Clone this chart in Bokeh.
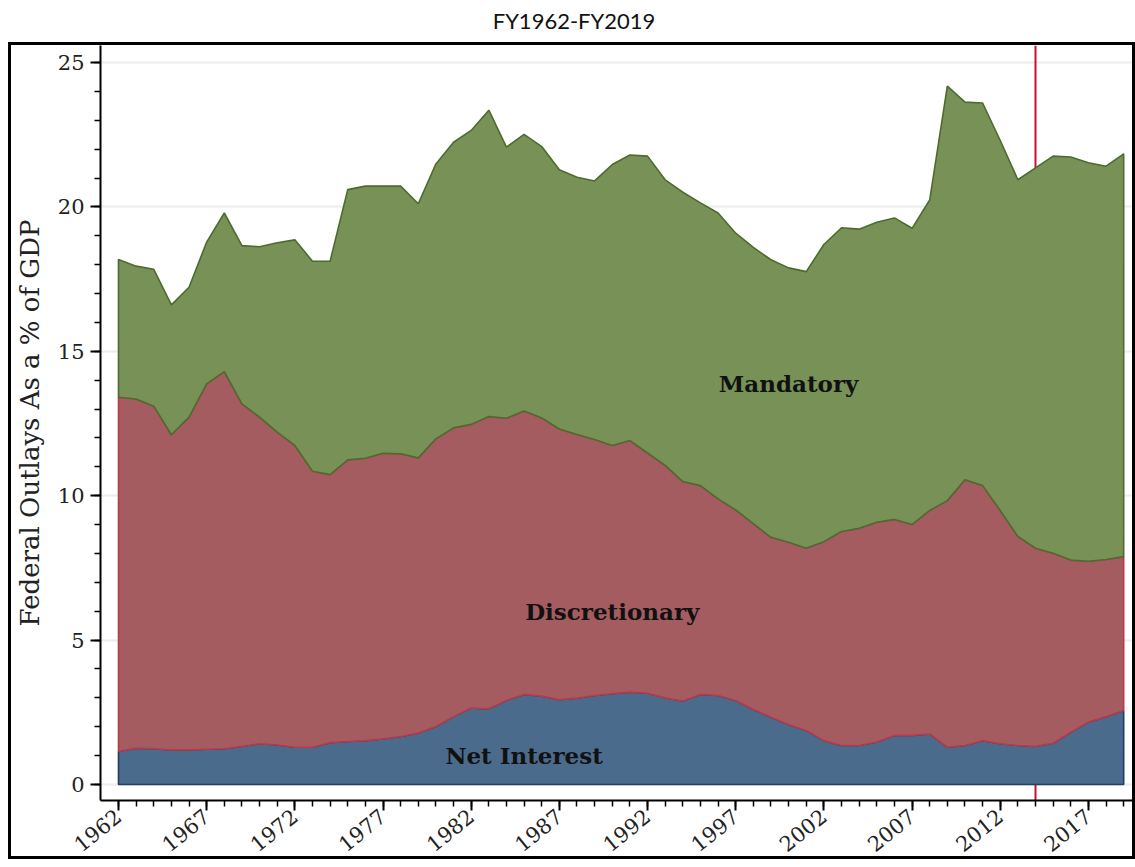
import numpy as np
from bokeh.plotting import figure
from bokeh.layouts import column
from bokeh.models import FixedTicker, Span
from bokeh.embed import file_html
from bokeh.resources import INLINE
from bokeh.core.properties import value

# ---------------- data (share of GDP, %) ----------------
years = list(range(1962, 2020))
net_interest = [1.14, 1.26, 1.24, 1.20, 1.20, 1.22, 1.24, 1.32, 1.41, 1.37,
                1.29, 1.29, 1.45, 1.49, 1.52, 1.58, 1.66, 1.78, 2.01, 2.35,
                2.65, 2.62, 2.91, 3.12, 3.06, 2.94, 2.99, 3.08, 3.14, 3.20,
                3.16, 3.00, 2.89, 3.12, 3.08, 2.91, 2.60, 2.33, 2.07, 1.87,
                1.52, 1.35, 1.35, 1.47, 1.70, 1.70, 1.75, 1.29, 1.35, 1.52,
                1.41, 1.35, 1.32, 1.43, 1.81, 2.16, 2.35, 2.56]
discretionary = [12.27, 12.09, 11.86, 10.91, 11.52, 12.65, 13.06, 11.86, 11.31, 10.83,
                 10.45, 9.56, 9.28, 9.75, 9.78, 9.89, 9.79, 9.53, 9.96, 10.00,
                 9.82, 10.12, 9.77, 9.81, 9.63, 9.37, 9.13, 8.87, 8.60, 8.71,
                 8.32, 8.05, 7.60, 7.23, 6.81, 6.60, 6.43, 6.23, 6.32, 6.31,
                 6.89, 7.41, 7.52, 7.61, 7.48, 7.30, 7.74, 8.54, 9.20, 8.83,
                 8.08, 7.24, 6.86, 6.58, 5.96, 5.57, 5.44, 5.33]
mandatory = [4.77, 4.60, 4.74, 4.50, 4.50, 4.91, 5.49, 5.48, 5.90, 6.56,
             7.12, 7.27, 7.39, 9.36, 9.42, 9.25, 9.27, 8.80, 9.52, 9.89,
             10.18, 10.61, 9.39, 9.58, 9.40, 8.98, 8.91, 8.95, 9.73, 9.89,
             10.28, 9.89, 10.02, 9.79, 9.90, 9.58, 9.57, 9.61, 9.50, 9.58,
             10.29, 10.52, 10.36, 10.39, 10.44, 10.26, 10.75, 14.35, 13.08, 13.25,
             12.81, 12.35, 13.17, 13.75, 13.96, 13.80, 13.62, 13.95]
series_names = ["Net Interest", "Discretionary", "Mandatory"]
x_tick_years = list(range(1962, 2018, 5))
y_ticks = [0, 5, 10, 15, 20, 25]
title_text = "FY1962-FY2019"
y_label = "Federal Outlays As a % of GDP"
marker_year = 2014

# ---------------- stacking ----------------
ni = np.array(net_interest)
mid = ni + np.array(discretionary)
tot = mid + np.array(mandatory)
zero = np.zeros(len(years))

# ---------------- main chart ----------------
p = figure(width=1127, height=817, x_range=(1960.98, 2019.5), y_range=(-0.554, 25.59),
           toolbar_location=None, output_backend="svg",
           min_border_left=87, min_border_right=6, min_border_top=0, min_border_bottom=62)
p.styles = {"border": "3px solid black"}
p.outline_line_color = None
p.background_fill_color = "white"
p.border_fill_color = "white"

# ---------------- title strip (frame aligned with main chart) ----------------
t = figure(width=1127, height=34, x_range=p.x_range, y_range=(0, 1),
           toolbar_location=None, output_backend="svg",
           min_border_left=87, min_border_right=6, min_border_top=0, min_border_bottom=0)
t.axis.visible = False
t.grid.visible = False
t.outline_line_color = None
t.text(x=[1988.0], y=[0.66], text=[title_text], text_font=value("Lato"),
       text_font_size="22px", text_align="center", text_baseline="middle",
       text_color="#111111")

span = Span(location=marker_year, dimension="height", line_color="#c8102e",
            line_width=2, level="underlay")
p.add_layout(span)


def band(lo, hi):
    xs = years + years[::-1]
    ys = list(hi) + list(lo[::-1])
    return xs, ys


fills = ["#4b6b8c", "#a55c61", "#789157"]
lines = ["#1e3f66", "#b83a4b", "#4e6b2e"]
bounds = [(zero, ni), (ni, mid), (mid, tot)]
for (lo, hi), fc, lc, nm in zip(bounds, fills, lines, series_names):
    xs, ys = band(lo, hi)
    p.patch(xs, ys, fill_color=fc, line_color=lc, line_width=1.6)

# area labels
p.text(x=[2000], y=[13.9], text=["Mandatory"], text_font=value("DejaVu Serif"),
       text_font_size="23px", text_font_style="bold", text_align="center",
       text_baseline="middle", text_color="#111111")
p.text(x=[1990], y=[5.98], text=["Discretionary"], text_font=value("DejaVu Serif"),
       text_font_size="23px", text_font_style="bold", text_align="center",
       text_baseline="middle", text_color="#111111")
p.text(x=[1985], y=[1.0], text=["Net Interest"], text_font=value("DejaVu Serif"),
       text_font_size="23px", text_font_style="bold", text_align="center",
       text_baseline="middle", text_color="#111111")

# axes
p.xaxis.ticker = FixedTicker(ticks=x_tick_years, minor_ticks=years)
p.yaxis.ticker = FixedTicker(ticks=y_ticks, minor_ticks=list(range(0, 26)))
p.xaxis.major_label_orientation = 0.68
for ax in (p.xaxis[0], p.yaxis[0]):
    ax.axis_line_color = "black"
    ax.axis_line_width = 2
    ax.major_tick_line_color = "black"
    ax.major_tick_line_width = 2
    ax.minor_tick_line_color = "black"
    ax.minor_tick_line_width = 1.5
    ax.major_tick_in = 0
    ax.major_tick_out = 10
    ax.minor_tick_in = 0
    ax.minor_tick_out = 6
    ax.major_label_text_font = "DejaVu Serif"
    ax.major_label_text_font_size = "21px"
    ax.major_label_text_color = "#222222"
p.yaxis.major_label_standoff = 6
p.xaxis.major_label_standoff = 3
p.yaxis.axis_label = y_label
p.yaxis.axis_label_text_font = "DejaVu Serif"
p.yaxis.axis_label_text_font_size = "26px"
p.yaxis.axis_label_text_font_style = "normal"
p.yaxis.axis_label_text_color = "#222222"
p.yaxis.axis_label_standoff = 10

p.xgrid.visible = False
p.ygrid.ticker = FixedTicker(ticks=y_ticks)
p.ygrid.grid_line_color = "#ececec"
p.ygrid.grid_line_width = 2

layout = column(t, p, spacing=0, margin=(8, 0, 0, 8))
open("out.html", "w").write(file_html(layout, INLINE))
